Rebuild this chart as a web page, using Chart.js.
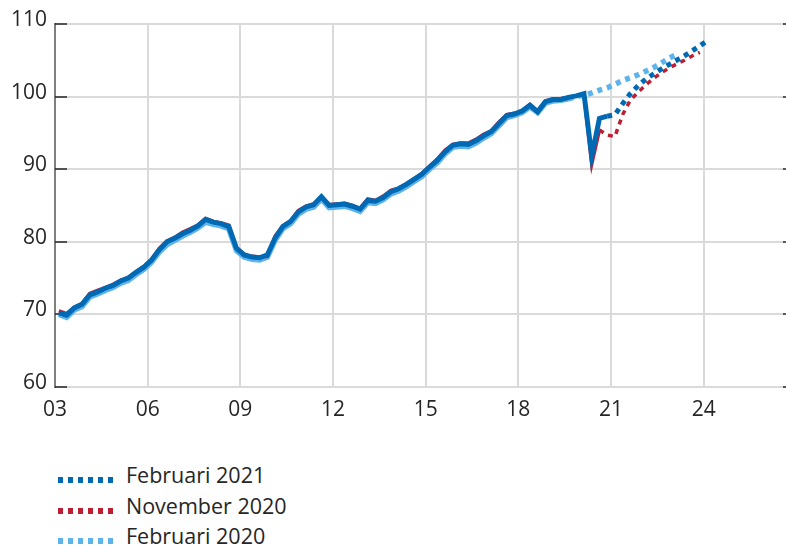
<!DOCTYPE html>
<html>
<head>
<meta charset="utf-8">
<script src="https://cdn.jsdelivr.net/npm/chart.js@4.4.1/dist/chart.umd.min.js"></script>
<style>
  body { margin: 0; background: #fff; }
  #wrap { position: relative; width: 786px; height: 548px; overflow: hidden; font-family: "Open Sans", sans-serif; }
  #gdpChart { position: absolute; left: 0; top: 0; }
  .lg-sample { position: absolute; left: 58px; width: 55px; height: 6px; }
  .lg-text { position: absolute; left: 126px; font-size: 21.5px; line-height: 30px; color: #262626; white-space: nowrap; }
</style>
</head>
<body>
<div id="wrap">
  <canvas id="gdpChart" width="786" height="430"></canvas>
  <div id="legend"></div>
</div>
<script>
// quarterly GDP index, first point = 2003 Q1
const firstYear = 2003;

const seriesNames = ['Februari 2021', 'November 2020', 'Februari 2020'];

// Februari 2021: outcome 2003Q1-2020Q4, forecast 2021Q1-2024Q1
const feb2021Outcome = [
  70.2, 69.9, 70.9, 71.4,  72.7, 73.1, 73.6, 74.0,  74.6, 75.0, 75.8, 76.5,
  77.5, 78.9, 80.0, 80.5,  81.1, 81.6, 82.2, 83.1,  82.7, 82.5, 82.1, 79.1,
  78.2, 77.9, 77.8, 78.2,  80.5, 82.1, 82.8, 84.1,  84.8, 85.1, 86.2, 85.0,
  85.1, 85.2, 84.9, 84.5,  85.7, 85.6, 86.1, 86.9,  87.3, 87.9, 88.6, 89.3,
  90.3, 91.2, 92.4, 93.3,  93.5, 93.4, 93.9, 94.6,  95.2, 96.3, 97.4, 97.6,
  98.0, 98.8, 97.9, 99.3,  99.6, 99.6, 99.9, 100.1, 100.4, 91.8, 97.0, 97.3
];
const feb2021Forecast = [
  97.5, 99.0, 100.4, 101.5,  102.4, 103.1, 103.8, 104.4,  105.0, 105.6, 106.3, 107.0,  107.7
];

// November 2020: outcome 2003Q1-2020Q3, forecast 2020Q4-2023Q4
const nov2020Outcome = [
  70.5, 70.1, 71.0, 71.5,  72.9, 73.3, 73.7, 74.1,  74.7, 75.1, 75.9, 76.6,
  77.6, 79.1, 80.1, 80.6,  81.3, 81.8, 82.3, 83.2,  82.8, 82.6, 82.3, 79.2,
  78.3, 78.0, 77.9, 78.0,  80.8, 82.2, 82.9, 84.3,  84.9, 85.2, 86.2, 85.1,
  85.2, 85.3, 85.0, 84.6,  85.9, 85.7, 86.3, 87.1,  87.4, 88.0, 88.7, 89.4,
  90.4, 91.4, 92.6, 93.4,  93.6, 93.6, 94.1, 94.8,  95.3, 96.5, 97.5, 97.7,
  98.1, 98.9, 98.0, 99.4,  99.7, 99.7, 99.9, 100.1, 100.3, 90.7, 95.4
];
const nov2020Forecast = [
  94.7, 94.5, 97.5, 99.5, 100.6,  101.6, 102.5, 103.3, 103.9,  104.5, 105.0, 105.6, 106.1
];

// Februari 2020: outcome 2003Q1-2019Q3, forecast 2019Q4-2023Q1
const feb2020Outcome = [
  70.0, 69.6, 70.6, 71.1,  72.4, 72.8, 73.3, 73.7,  74.3, 74.7, 75.5, 76.2,
  77.2, 78.6, 79.6, 80.2,  80.8, 81.3, 81.9, 82.7,  82.4, 82.2, 81.8, 78.8,
  77.9, 77.6, 77.5, 77.9,  80.2, 81.8, 82.5, 83.8,  84.5, 84.8, 85.9, 84.7,
  84.8, 84.9, 84.6, 84.2,  85.4, 85.3, 85.8, 86.6,  87.0, 87.6, 88.3, 89.0,
  90.0, 90.9, 92.1, 93.0,  93.2, 93.1, 93.6, 94.3,  94.9, 96.0, 97.1, 97.4,
  97.8, 98.6, 97.8, 99.1,  99.4, 99.5, 99.7
];
const feb2020Forecast = [
  100.0, 100.2, 100.5, 100.9, 101.2,  101.7, 102.2, 102.6, 103.0,  103.5, 104.0, 104.6, 105.3,  105.8
];

const xTickYears = [2003, 2006, 2009, 2012, 2015, 2018, 2021, 2024];
const xTickLabels = ['03', '06', '09', '12', '15', '18', '21', '24'];
const yTicks = [60, 70, 80, 90, 100, 110];

const colors = ['#0069B4', '#BE1E32', '#5DB4EC'];

function toPoints(outcome, forecast) {
  return outcome.concat(forecast).map((v, i) => ({ x: firstYear + (i + 0.5) / 4, y: v }));
}

function makeDataset(idx, outcome, forecast, width) {
  const last = outcome.length - 1;
  return {
    label: seriesNames[idx],
    data: toPoints(outcome, forecast),
    borderColor: colors[idx],
    borderWidth: width,
    pointRadius: 0,
    tension: 0,
    borderCapStyle: 'butt',
    segment: {
      borderDash: ctx => ctx.p0DataIndex >= last ? [5, 5] : undefined
    }
  };
}

// small tick marks pointing into the plot on the left, stubs on the right
const innerTicks = {
  id: 'innerTicks',
  beforeDatasetsDraw(chart) {
    const { ctx, chartArea, scales } = chart;
    ctx.save();
    ctx.strokeStyle = '#262626';
    ctx.lineWidth = 1.5;
    yTicks.forEach(v => {
      const py = Math.round(scales.y.getPixelForValue(v));
      ctx.beginPath();
      ctx.moveTo(chartArea.left, py);
      ctx.lineTo(chartArea.left + 12, py);
      ctx.moveTo(chartArea.right - 1, py);
      ctx.lineTo(chartArea.right + 2, py);
      ctx.stroke();
    });
    ctx.restore();
  }
};

const tickFont = { family: '"Open Sans", sans-serif', size: 21 };

new Chart(document.getElementById('gdpChart'), {
  type: 'line',
  data: {
    datasets: [
      makeDataset(0, feb2021Outcome, feb2021Forecast, 5),
      makeDataset(1, nov2020Outcome, nov2020Forecast, 3.5),
      makeDataset(2, feb2020Outcome, feb2020Forecast, 5.5)
    ]
  },
  options: {
    responsive: false,
    animation: false,
    devicePixelRatio: 1,
    layout: { padding: { top: 24, right: 2, left: 0, bottom: 0 } },
    plugins: { legend: { display: false }, tooltip: { enabled: false } },
    scales: {
      x: {
        type: 'linear',
        min: 2003,
        max: 2026.6,
        afterBuildTicks: axis => { axis.ticks = xTickYears.map(v => ({ value: v })); },
        afterFit: axis => { axis.height = 43; },
        ticks: {
          autoSkip: false,
          maxRotation: 0,
          padding: 10,
          color: '#262626',
          font: tickFont,
          callback: (v, i) => xTickLabels[i]
        },
        grid: {
          drawTicks: false,
          lineWidth: 2,
          color: ctx => (ctx.tick && ctx.tick.value === firstYear) ? 'rgba(0,0,0,0)' : '#dadada'
        },
        border: { display: true, color: '#dadada', width: 2 }
      },
      y: {
        min: 60,
        max: 110,
        afterBuildTicks: axis => { axis.ticks = yTicks.map(v => ({ value: v })); },
        afterFit: axis => { axis.width = 55; },
        ticks: {
          padding: 8,
          labelOffset: -4,
          color: '#262626',
          font: tickFont
        },
        grid: { drawTicks: false, lineWidth: 2, color: '#dadada' },
        border: { display: true, color: '#7f7f7f', width: 2 }
      }
    }
  },
  plugins: [innerTicks]
});

// legend below the chart, one entry per row
const legendEl = document.getElementById('legend');
const sampleTops = [477, 508, 538];
const textTops = [460, 491, 521];
seriesNames.forEach((name, i) => {
  const s = document.createElement('div');
  s.className = 'lg-sample';
  s.style.top = sampleTops[i] + 'px';
  s.style.background = `repeating-linear-gradient(to right, ${colors[i]} 0 5px, transparent 5px 10px)`;
  legendEl.appendChild(s);
  const t = document.createElement('div');
  t.className = 'lg-text';
  t.style.top = textTops[i] + 'px';
  t.textContent = name;
  legendEl.appendChild(t);
});
</script>
</body>
</html>
